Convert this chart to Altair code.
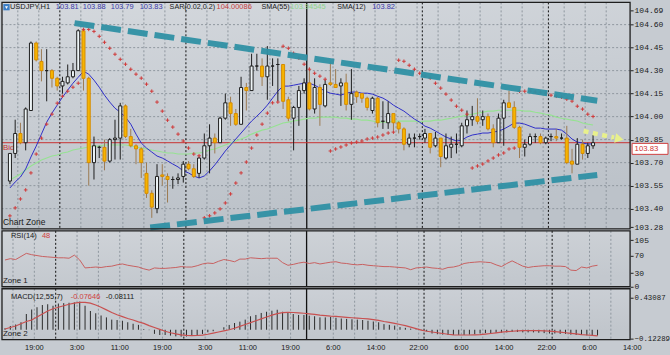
import json
import altair as alt
import pandas as pd

# ---------------- data ----------------
opens = [103.58, 103.76, 103.89, 103.83, 104.04, 104.48, 104.36, 104.30, 104.30, 104.25,
         104.20, 104.22, 104.26, 104.30, 104.56, 104.25, 103.70, 103.80, 103.80, 103.71,
         103.85, 103.86, 104.07, 103.87, 103.81, 103.79, 103.63, 103.50, 103.40, 103.62,
         103.61, 103.59, 103.59, 103.61, 103.69, 103.66, 103.63, 103.73, 103.81, 103.86,
         103.83, 103.99, 104.09, 104.02, 103.95, 104.19, 104.17, 104.33, 104.33, 104.26,
         104.33, 104.34, 104.34, 104.11, 103.99, 104.06, 104.17, 104.22, 104.05, 104.19,
         104.07, 104.22, 104.21, 104.20, 104.22, 104.08, 104.16, 104.15, 104.12, 104.04,
         104.12, 103.97, 103.96, 104.02, 103.96, 103.92, 103.82, 103.86, 103.87, 103.86,
         103.89, 103.81, 103.86, 103.73, 103.80, 103.82, 103.81, 103.94, 103.98, 104.00,
         103.98, 104.00, 103.92, 103.83, 103.99, 104.09, 104.06, 103.93, 103.80, 103.82,
         103.87, 103.87, 103.83, 103.87, 103.87, 103.86, 103.86, 103.71, 103.69, 103.82,
         103.76, 103.81]
closes = [103.76, 103.89, 103.83, 104.05, 104.48, 104.37, 104.30, 104.30, 104.25, 104.20,
          104.23, 104.26, 104.30, 104.56, 104.25, 103.70, 103.81, 103.80, 103.71, 103.85,
          103.86, 104.07, 103.87, 103.81, 103.79, 103.70, 103.50, 103.41, 103.61, 103.61,
          103.59, 103.59, 103.60, 103.69, 103.66, 103.61, 103.73, 103.81, 103.86, 103.83,
          103.99, 104.09, 104.02, 103.95, 104.19, 104.17, 104.33, 104.33, 104.26, 104.33,
          104.33, 104.34, 104.10, 103.99, 104.06, 104.17, 104.22, 104.05, 104.19, 104.08,
          104.21, 104.21, 104.19, 104.22, 104.08, 104.15, 104.13, 104.12, 104.06, 104.12,
          103.96, 103.97, 104.02, 103.96, 103.92, 103.82, 103.86, 103.86, 103.87, 103.89,
          103.80, 103.86, 103.74, 103.81, 103.82, 103.82, 103.94, 103.98, 104.00, 103.97,
          104.00, 103.92, 103.83, 103.99, 104.09, 104.06, 103.93, 103.80, 103.82, 103.87,
          103.87, 103.83, 103.86, 103.87, 103.86, 103.86, 103.70, 103.69, 103.82, 103.76,
          103.81, 103.83]
highs = [103.76, 103.98, 103.96, 104.06, 104.49, 104.49, 104.44, 104.44, 104.31, 104.26,
         104.26, 104.34, 104.35, 104.57, 104.57, 104.26, 103.87, 103.81, 103.85, 103.86,
         103.98, 104.09, 104.08, 103.92, 103.82, 103.80, 103.70, 103.52, 103.69, 103.69,
         103.63, 103.61, 103.63, 103.71, 103.71, 103.69, 103.74, 103.89, 103.95, 103.89,
         104.00, 104.15, 104.13, 104.05, 104.26, 104.22, 104.41, 104.41, 104.38, 104.46,
         104.38, 104.38, 104.34, 104.13, 104.07, 104.20, 104.25, 104.32, 104.25, 104.21,
         104.24, 104.36, 104.31, 104.25, 104.28, 104.31, 104.17, 104.15, 104.13, 104.13,
         104.13, 104.10, 104.10, 104.02, 103.97, 103.93, 103.89, 103.89, 103.89, 103.92,
         103.89, 103.90, 103.86, 103.89, 103.87, 103.89, 103.96, 104.04, 104.07, 104.12,
         104.04, 104.02, 103.95, 104.02, 104.11, 104.17, 104.10, 103.94, 103.85, 103.89,
         103.89, 103.89, 103.87, 103.89, 103.92, 103.89, 103.94, 103.79, 103.86, 103.85,
         103.83, 103.88]
lows = [103.56, 103.73, 103.82, 103.78, 104.04, 104.36, 104.23, 104.10, 104.19, 104.17,
        104.15, 104.21, 104.25, 104.30, 104.17, 103.55, 103.59, 103.73, 103.65, 103.70,
        103.72, 103.72, 103.86, 103.80, 103.69, 103.60, 103.47, 103.34, 103.37, 103.55,
        103.44, 103.53, 103.56, 103.57, 103.65, 103.60, 103.60, 103.72, 103.63, 103.76,
        103.83, 103.98, 103.94, 103.94, 103.95, 104.04, 104.17, 104.30, 104.20, 104.11,
        104.20, 104.10, 104.05, 103.97, 103.78, 103.94, 104.15, 104.04, 104.02, 103.94,
        104.06, 104.20, 104.19, 104.07, 104.04, 103.98, 104.09, 104.09, 104.04, 104.02,
        103.93, 103.92, 103.92, 103.91, 103.89, 103.78, 103.80, 103.80, 103.85, 103.83,
        103.76, 103.80, 103.67, 103.72, 103.73, 103.76, 103.80, 103.89, 103.94, 103.95,
        103.94, 103.91, 103.80, 103.83, 103.81, 104.06, 103.92, 103.73, 103.74, 103.81,
        103.83, 103.82, 103.82, 103.84, 103.84, 103.85, 103.69, 103.63, 103.69, 103.72,
        103.73, 103.79]
sar = [103.353, 103.405, 103.463, 103.522, 103.633, 103.756, 103.860, 103.951, 104.016, 104.088,
       104.133, 104.166, 104.192, 104.218, 104.569, 104.569, 104.556, 104.524, 104.485, 104.446,
       104.407, 104.374, 104.342, 104.309, 104.277, 104.251, 104.212, 104.166, 104.095, 104.036,
       103.977, 103.932, 103.886, 103.841, 103.795, 103.756, 103.745, 103.340, 103.353, 103.372,
       103.398, 103.437, 103.496, 103.567, 103.633, 103.704, 103.795, 103.880, 103.951, 104.023,
       104.090, 104.095, 104.459, 104.446, 104.413, 104.381, 104.342, 104.309, 104.283, 104.264,
       104.244, 103.776, 103.789, 103.802, 103.815, 103.828, 103.834, 103.841, 103.854, 103.860,
       103.867, 103.880, 103.893, 103.899, 104.368, 104.361, 104.335, 104.309, 104.283, 104.264,
       104.251, 104.218, 104.186, 104.147, 104.108, 104.068, 104.042, 104.016, 103.665, 103.678,
       103.691, 103.711, 103.730, 103.750, 103.763, 103.789, 103.795, 104.166, 104.166, 104.166,
       104.160, 104.160, 104.153, 104.140, 104.133, 104.127, 104.114, 104.101, 104.068, 104.049,
       104.016, 104.001]
sma12 = [103.535, 103.574, 103.606, 103.659, 103.737, 103.808, 103.886, 103.964, 104.023, 104.075,
         104.127, 104.173, 104.218, 104.257, 104.296, 104.277, 104.238, 104.192, 104.140, 104.095,
         104.055, 104.029, 103.997, 103.951, 103.886, 103.828, 103.795, 103.769, 103.743, 103.730,
         103.711, 103.691, 103.672, 103.646, 103.633, 103.613, 103.600, 103.613, 103.646, 103.685,
         103.730, 103.776, 103.815, 103.854, 103.893, 103.932, 103.971, 104.003, 104.036, 104.075,
         104.121, 104.166, 104.199, 104.199, 104.205, 104.212, 104.218, 104.218, 104.205, 104.186,
         104.166, 104.153, 104.147, 104.140, 104.153, 104.160, 104.160, 104.153, 104.153, 104.147,
         104.133, 104.121, 104.101, 104.075, 104.055, 104.036, 104.010, 103.984, 103.964, 103.938,
         103.925, 103.906, 103.886, 103.867, 103.854, 103.841, 103.847, 103.867, 103.880, 103.886,
         103.893, 103.893, 103.899, 103.906, 103.919, 103.938, 103.958, 103.958, 103.951, 103.938,
         103.925, 103.925, 103.919, 103.919, 103.919, 103.912, 103.886, 103.854, 103.834, 103.828,
         103.821, 103.823]
sma55 = [103.587, 103.606, 103.626, 103.652, 103.678, 103.698, 103.717, 103.730, 103.743, 103.750,
         103.763, 103.769, 103.782, 103.789, 103.795, 103.802, 103.808, 103.808, 103.815, 103.815,
         103.815, 103.815, 103.815, 103.808, 103.802, 103.795, 103.789, 103.782, 103.776, 103.769,
         103.763, 103.763, 103.756, 103.756, 103.756, 103.763, 103.763, 103.769, 103.782, 103.789,
         103.802, 103.815, 103.828, 103.841, 103.854, 103.867, 103.886, 103.899, 103.912, 103.919,
         103.932, 103.945, 103.958, 103.964, 103.971, 103.977, 103.984, 103.990, 103.990, 103.997,
         103.997, 103.997, 103.997, 103.990, 103.990, 103.984, 103.984, 103.977, 103.977, 103.971,
         103.964, 103.964, 103.964, 103.971, 103.971, 103.971, 103.971, 103.971, 103.964, 103.971,
         103.971, 103.977, 103.977, 103.984, 103.990, 103.997, 104.003, 104.010, 104.016, 104.023,
         104.029, 104.036, 104.036, 104.042, 104.042, 104.042, 104.042, 104.042, 104.036, 104.036,
         104.029, 104.023, 104.016, 104.010, 103.997, 103.990, 103.984, 103.977, 103.971, 103.958,
         103.951, 103.945]
rsi = [60, 63, 61, 68, 75, 72, 70, 68, 67, 66,
       65, 65, 64, 71, 60, 42, 43, 44, 43, 45,
       46, 49, 51, 48, 46, 44, 40, 37, 42, 41,
       41, 42, 43, 45, 44, 44, 47, 51, 53, 52,
       57, 61, 59, 56, 62, 62, 65, 64, 63, 64,
       64, 64, 54, 48, 50, 53, 55, 52, 54, 51,
       53, 55, 56, 53, 52, 50, 49, 50, 48, 47,
       46, 45, 45, 44, 43, 42, 38, 42, 43, 44,
       42, 41, 39, 43, 44, 47, 52, 54, 55, 56,
       55, 54, 49, 45, 52, 58, 52, 46, 43, 45,
       46, 47, 47, 46, 46, 45, 37, 36, 44, 42,
       46, 48]
macd_hist = [0.02, 0.05, 0.07, 0.10, 0.21, 0.27, 0.30, 0.33, 0.34, 0.32,
             0.35, 0.355, 0.36, 0.365, 0.375, 0.32, 0.25, 0.22, 0.19, 0.165,
             0.135, 0.13, 0.12, 0.10, 0.08, 0.065, 0.01, -0.005, -0.055, -0.07,
             -0.07, -0.078, -0.088, -0.092, -0.09, -0.078, -0.07, -0.056, -0.034, -0.02,
             0.0, 0.033, 0.064, 0.09, 0.108, 0.135, 0.18, 0.197, 0.224, 0.24,
             0.254, 0.267, 0.24, 0.224, 0.21, 0.197, 0.197, 0.188, 0.18, 0.165,
             0.165, 0.17, 0.16, 0.15, 0.145, 0.14, 0.135, 0.13, 0.12, 0.11,
             0.10, 0.075, 0.065, 0.055, 0.035, 0.025, 0.015, 0.005, -0.005, -0.02,
             -0.05, -0.06, -0.065, -0.07, -0.07, -0.07, -0.07, -0.065, -0.06, -0.05,
             -0.045, -0.045, -0.04, -0.04, -0.035, -0.03, -0.03, -0.035, -0.035, -0.035,
             -0.04, -0.045, -0.05, -0.05, -0.055, -0.055, -0.065, -0.07, -0.07, -0.075,
             -0.075, -0.0765]
macd_signal = [0.01, 0.03, 0.05, 0.08, 0.11, 0.13, 0.17, 0.21, 0.25, 0.28,
               0.30, 0.32, 0.34, 0.355, 0.365, 0.365, 0.355, 0.33, 0.30, 0.265,
               0.23, 0.20, 0.175, 0.15, 0.13, 0.105, 0.085, 0.055, 0.03, 0.005,
               -0.02, -0.04, -0.055, -0.068, -0.075, -0.078, -0.077, -0.072, -0.06, -0.045,
               -0.03, -0.015, 0.0, 0.02, 0.045, 0.07, 0.095, 0.12, 0.145, 0.17,
               0.195, 0.215, 0.228, 0.232, 0.23, 0.225, 0.22, 0.213, 0.205, 0.195,
               0.188, 0.182, 0.178, 0.172, 0.166, 0.16, 0.155, 0.15, 0.145, 0.135,
               0.125, 0.11, 0.098, 0.085, 0.07, 0.055, 0.035, 0.015, -0.005, -0.02,
               -0.03, -0.04, -0.05, -0.06, -0.068, -0.07, -0.07, -0.07, -0.068, -0.065,
               -0.058, -0.05, -0.042, -0.033, -0.025, -0.02, -0.015, -0.012, -0.012, -0.012,
               -0.013, -0.015, -0.018, -0.025, -0.032, -0.04, -0.048, -0.056, -0.064, -0.07,
               -0.076, -0.081]

time_labels = ["19:00", "3:00", "11:00", "19:00", "3:00", "11:00", "19:00", "6:00",
               "14:00", "22:00", "6:00", "14:00", "22:00", "6:00", "14:00"]
time_label_bars = [5.5, 13.5, 21.5, 29.5, 37.5, 45.5, 53.5, 61.5, 69.5, 77.5,
                   85.5, 93.5, 101.5, 109.5, 117.5]
grid_bars = [1.5, 5.5, 13.5, 17.5, 21.5, 25.5, 29.5, 37.5, 41.5, 45.5, 49.5, 53.5,
             61.5, 65.5, 69.5, 73.5, 77.5, 81.5, 85.5, 89.5, 93.5, 97.5, 101.5,
             105.5, 109.5, 113.5]
day_sep_bars = [9.5, 33.5, 78.5, 102.5]
week_sep_bars = [56.5]
price_ticks = [104.69, 104.60, 104.45, 104.30, 104.15, 104.00, 103.85, 103.70,
               103.55, 103.40, 103.28]
price_grid = [104.60, 104.45, 104.30, 104.15, 104.00, 103.85, 103.70, 103.55, 103.40]
rsi_ticks = [105, 70, 30, 0]
macd_ticks = [0.43087, -0.12289]
bid_price = 103.83

trend_names = ["upper", "upper", "lower", "lower"]
trend_bars = [12.3, 111.8, 26.7, 111.8]
trend_prices = [104.610, 104.104, 103.277, 103.620]
arrow_bars = [109.2, 115.0]
arrow_prices = [103.906, 103.863]
arrow_head_bar = [116.0]
arrow_head_price = [103.855]

# ---------------- layout ----------------
W = 629.5
H_MAIN, H_RSI, H_MACD = 227, 56, 51
FONT = "Liberation Sans"
MONO = "Liberation Mono"
DARK = "#1a1a1a"

n = len(opens)
df = pd.DataFrame({"bar": list(range(n)), "open": opens, "close": closes,
                   "high": highs, "low": lows, "sar": sar, "sma12": sma12,
                   "sma55": sma55, "rsi": rsi, "macd": macd_hist, "signal": macd_signal})
df["body_lo"] = df[["open", "close"]].min(axis=1)
df["body_hi"] = df[["open", "close"]].max(axis=1)
df["dir"] = ["up" if c > o else ("down" if c < o else "doji") for o, c in zip(opens, closes)]

xsc = alt.Scale(domain=[-0.56, 117.1], nice=False, zero=False)
psc = alt.Scale(domain=[103.268, 104.745], nice=False, zero=False)
rsc = alt.Scale(domain=[-0.7, 126], nice=False, zero=False)
msc = alt.Scale(domain=[-0.132, 0.547], nice=False, zero=False)


def X(field="bar"):
    return alt.X(f"{field}:Q", scale=xsc, axis=None)


def right_axis(values, fmt, size=8):
    return alt.Axis(orient="right", values=values, format=fmt, title=None, grid=False,
                    domain=False, ticks=True, tickSize=3, tickColor="#222222",
                    labelFont=MONO, labelFontSize=size, labelColor=DARK, labelPadding=1,
                    labelFlush=False, labelOverlap=False)


P_AXIS = right_axis(price_ticks, ".2f")
R_AXIS = right_axis(rsi_ticks, "d")
M_AXIS = right_axis(macd_ticks, ".5f", size=7.4)


def PY(field):
    return alt.Y(f"{field}:Q", scale=psc, axis=P_AXIS)


def RY(field):
    return alt.Y(f"{field}:Q", scale=rsc, axis=R_AXIS)


def MY(field):
    return alt.Y(f"{field}:Q", scale=msc, axis=M_AXIS)


dummy = pd.DataFrame({"a": [0]})


def bg(h, top, bottom):
    grad = alt.LinearGradient(gradient="linear", x1=0, x2=0.25, y1=0, y2=1,
                              stops=[alt.GradientStop(offset=0, color=top),
                                     alt.GradientStop(offset=1, color=bottom)])
    return alt.Chart(dummy).mark_rect(fill=grad).encode(
        x=alt.value(0), x2=alt.value(W), y=alt.value(0), y2=alt.value(h))


def border(h):
    return alt.Chart(dummy).mark_rect(fillOpacity=0, stroke="#1e1e1e", strokeWidth=1.3).encode(
        x=alt.value(0), x2=alt.value(W), y=alt.value(0), y2=alt.value(h))


def vlines():
    g = alt.Chart(pd.DataFrame({"b": grid_bars})).mark_rule(
        color="#8f979f", strokeDash=[2, 2], strokeWidth=1).encode(x=X("b"))
    d = alt.Chart(pd.DataFrame({"b": day_sep_bars})).mark_rule(
        color="#111111", strokeDash=[2, 2], strokeWidth=1).encode(x=X("b"))
    w = alt.Chart(pd.DataFrame({"b": week_sep_bars})).mark_rule(
        color="#111111", strokeWidth=1.3).encode(x=X("b"))
    return [g, d, w]


def txt(text, x, y, color=DARK, size=7.5, font=FONT, baseline="middle"):
    return alt.Chart(dummy).mark_text(text=text, align="left", baseline=baseline,
                                      font=font, fontSize=size, color=color).encode(
        x=alt.value(x), y=alt.value(y))


# ---------------- main price panel ----------------
hgrid = alt.Chart(pd.DataFrame({"p": price_grid})).mark_rule(
    color="#8f979f", strokeDash=[2, 2], strokeWidth=1).encode(y=PY("p"))

bid = alt.Chart(pd.DataFrame({"p": [bid_price]})).mark_rule(
    color="#c83232", strokeWidth=1).encode(y=PY("p"))

base = alt.Chart(df)
sma55_line = base.mark_line(color="#96e292", strokeWidth=1.1).encode(x=X(), y=PY("sma55"))
sma12_line = base.mark_line(color="#2f2fc8", strokeWidth=1).encode(x=X(), y=PY("sma12"))

wicks = base.mark_rule(strokeWidth=1).encode(
    x=X(), y=PY("low"), y2="high:Q",
    color=alt.Color("dir:N", legend=None,
                    scale=alt.Scale(domain=["up", "down", "doji"],
                                    range=["#1e1e1e", "#9c7a52", "#1e1e1e"])))
bodies = base.mark_bar(size=3, strokeWidth=1).encode(
    x=X(), y=PY("body_lo"), y2="body_hi:Q",
    fill=alt.Fill("dir:N", legend=None,
                  scale=alt.Scale(domain=["up", "down", "doji"],
                                  range=["#eef5f7", "#f6b400", "#1e1e1e"])),
    stroke=alt.Stroke("dir:N", legend=None,
                      scale=alt.Scale(domain=["up", "down", "doji"],
                                      range=["#1e1e1e", "#d68c00", "#1e1e1e"])))

sar_pts = base.mark_point(shape="M-1,0H1M0,-1V1", size=13, strokeWidth=1,
                          color="#d03a3a", filled=False, opacity=1).encode(
    x=X(), y=PY("sar"))

trend_df = pd.DataFrame({"line": trend_names, "b": trend_bars, "p": trend_prices})
trends = alt.Chart(trend_df).mark_line(color="#2f90a4", strokeWidth=6, strokeDash=[20, 7],
                                       strokeCap="butt", opacity=0.95).encode(
    x=X("b"), y=PY("p"), detail="line:N")

arrow_line = alt.Chart(pd.DataFrame({"b": arrow_bars, "p": arrow_prices})).mark_line(
    color="#e8f08c", strokeWidth=4.5, strokeDash=[5, 4.5]).encode(x=X("b"), y=PY("p"))
arrow_head = alt.Chart(pd.DataFrame({"b": arrow_head_bar, "p": arrow_head_price})).mark_point(
    shape="triangle-right", filled=True, size=95, angle=12, color="#e8f08c", opacity=1).encode(
    x=X("b"), y=PY("p"))

price_box = alt.Chart(dummy).mark_rect(fill="#ffffff", stroke="#d04040", strokeWidth=1).encode(
    x=alt.value(631.5), x2=alt.value(667.5), y=alt.value(141.3), y2=alt.value(152.3))
price_box_txt = txt("103.83", 634, 147, color="#d03030", size=7.8)

icon = alt.Chart(dummy).mark_square(size=40, color="#3c7fc8", opacity=1).encode(
    x=alt.value(4.5), y=alt.value(4.8))
icon_arrow = alt.Chart(dummy).mark_point(shape="triangle-down", size=9, filled=True,
                                         color="#ffffff", opacity=1).encode(
    x=alt.value(4.5), y=alt.value(5.2))

header = [
    txt("USDJPY,H1", 8, 5),
    txt("103.81", 54, 5, color="#3a3aa8"),
    txt("103.88", 81, 5, color="#3a3aa8"),
    txt("103.79", 109, 5, color="#3a3aa8"),
    txt("103.83", 138, 5, color="#3a3aa8"),
    txt("SAR(0.02,0.2)", 168, 5, size=7.2),
    txt("104.00086", 215, 5, color="#c84040"),
    txt("SMA(55)", 260, 5, size=7.2),
    txt("103.94545", 289, 5, color="#8fd48c"),
    txt("SMA(12)", 336, 5, size=7.2),
    txt("103.82", 371, 5, color="#3a3aa8"),
]

main = alt.layer(
    bg(H_MAIN, "#d4d8dd", "#bcc2c9"), hgrid, *vlines(), bid,
    txt("Bid", 1, 146, color="#c83232", size=8),
    sma55_line, sma12_line, wicks, bodies, sar_pts, trends, arrow_line, arrow_head,
    txt("Chart Zone", 1, 220.5, size=8.5),
    icon, icon_arrow, *header,
    border(H_MAIN), price_box, price_box_txt,
).properties(width=W, height=H_MAIN)

# ---------------- RSI panel ----------------
rsi_line = base.mark_line(color="#c86060", strokeWidth=1).encode(x=X(), y=RY("rsi"))
rsi_panel = alt.layer(
    bg(H_RSI, "#cfd3d8", "#c3c8ce"), *vlines(), rsi_line,
    txt("RSI(14)", 9, 5.5), txt("48", 40, 5.5, color="#d04040"),
    txt("Zone 1", 1, 50, size=8),
    border(H_RSI),
).properties(width=W, height=H_RSI)

# ---------------- MACD panel ----------------
hist = base.mark_rule(color="#2a2a2a", strokeWidth=1).encode(
    x=X(), y=MY("macd"), y2=alt.datum(0))
sig = base.mark_line(color="#c85050", strokeWidth=1.2).encode(x=X(), y=MY("signal"))
time_txt = alt.Chart(pd.DataFrame({"b": time_label_bars, "t": time_labels})).mark_text(
    font=FONT, fontSize=7.5, color=DARK, baseline="middle", align="center").encode(
    x=X("b"), y=alt.value(H_MACD + 8), text="t:N")
macd_panel = alt.layer(
    bg(H_MACD, "#cdd1d7", "#c1c6cc"), *vlines(), hist, sig,
    txt("MACD(12,55,7)", 9, 8), txt("-0.07646", 69, 8, color="#d04040"),
    txt("-0.08111", 104, 8),
    txt("Zone 2", 1, 45, size=8),
    border(H_MACD), time_txt,
).properties(width=W, height=H_MACD)

chart = alt.vconcat(main, rsi_panel, macd_panel, spacing=2, bounds="flush").properties(
    padding={"left": 0, "top": 0, "right": 0, "bottom": 4},
    background="#c6cbd1",
).configure_view(stroke="transparent")

chart.save("out.html", embed_options={"renderer": "svg", "actions": False})
